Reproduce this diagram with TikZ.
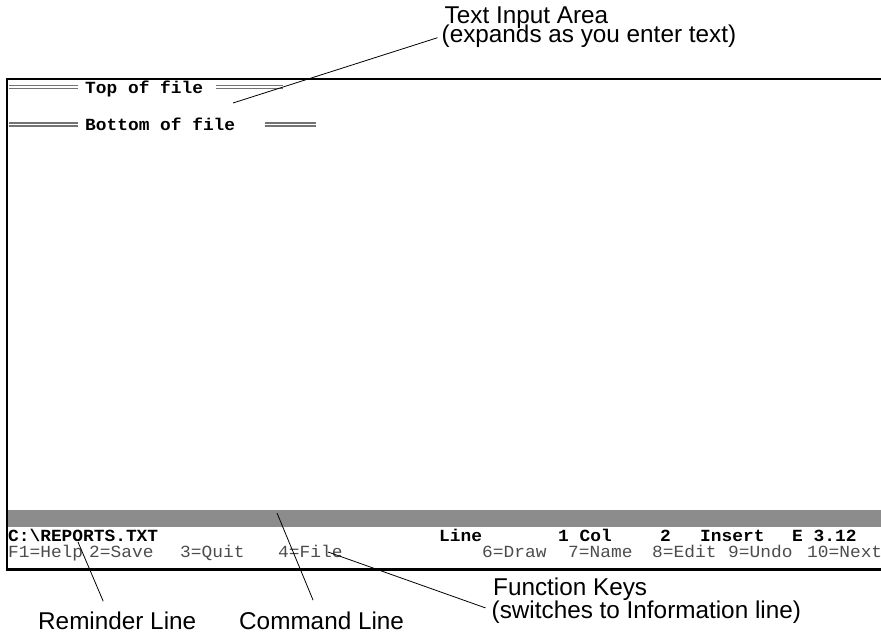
\documentclass[tikz,border=0pt]{standalone}
\usepackage{fontspec}
\newfontfamily\calloutfont{Liberation Sans}
\newfontfamily\screenfont[FakeStretch=1.05]{Liberation Mono}

\begin{document}
\begin{tikzpicture}[x=1bp,y=-1bp,
        callout/.style={font=\calloutfont\fontsize{24.3bp}{26bp}\selectfont, inner sep=0pt, anchor=base west},
        scr/.style={font=\screenfont\bfseries\fontsize{17bp}{18bp}\selectfont, inner sep=0pt, anchor=base west},
        keys/.style={font=\screenfont\fontsize{17bp}{18bp}\selectfont, text=black!70, inner sep=0pt, anchor=base west},
        leader/.style={draw, line width=0.8bp},
        dbl rule/.style={draw=black!55, line width=1.3bp, double=white, double distance=1.5bp}]
        \useasboundingbox (0,0) rectangle (881,633);

        % screen
        \fill[black!45] (8,510) rectangle (881,527);
        \draw[line width=2.5bp] (881,79) -- (7,79) -- (7,569.5) -- (881,569.5);
        \draw[dbl rule] (9,87) -- (78,87);
        \draw[dbl rule] (216,87) -- (283,87);
        \draw[dbl rule] (9,124.5) -- (78,124.5);
        \draw[dbl rule] (265,124.5) -- (316,124.5);

        % screen text
        \node[scr] (top) at (85,93.5) {Top of file};
        \node[scr] (bottom) at (85,131) {Bottom of file};
        \node[scr] (path) at (8,541.7) {C:\textbackslash REPORTS.TXT};
        \node[scr] (line) at (439,541.7) {Line};
        \node[scr] (col) at (558,541.7) {1 Col};
        \node[scr] (colno) at (660,541.7) {2};
        \node[scr] (insert) at (700,541.7) {Insert};
        \node[scr] (version) at (792,541.7) {E 3.12};

        \node[keys] (help) at (8,557) {F1=Help};
        \node[keys] (save) at (89,557) {2=Save};
        \node[keys] (quit) at (180,557) {3=Quit};
        \node[keys] (file) at (278,557) {4=File};
        \node[keys] (drawkey) at (482,557) {6=Draw};
        \node[keys] (name) at (568,557) {7=Name};
        \node[keys] (edit) at (652,557) {8=Edit};
        \node[keys] (undo) at (728,557) {9=Undo};
        \node[keys] (next) at (807,557) {10=Next};

        % callouts
        \node[callout] (input) at (444.5,24) {Text Input Area};
        \node[callout] (inputnote) at (441.5,43) {(expands as you enter text)};
        \node[callout] (fkeys) at (493,595.5) {Function Keys};
        \node[callout] (fkeysnote) at (491.5,618.2) {(switches to Information line)};
        \node[callout] (remind) at (38,629) {Reminder Line};
        \node[callout] (command) at (239,629) {Command Line};

        \coordinate (inputpt) at (233,103);
        \coordinate (remindpt) at (78,542);
        \coordinate (commandpt) at (277,513);
        \coordinate (fkeyspt) at (328,552);

        % leader lines
        \draw[leader] ([xshift=-4bp,yshift=-1bp]inputnote.west) -- (inputpt);
        \draw[leader] ([xshift=-14bp,yshift=10bp]remind.north) -- (remindpt);
        \draw[leader] ([xshift=-8.5bp,yshift=11bp]command.north) -- (commandpt);
        \draw[leader] ([xshift=-6bp,yshift=4bp]fkeysnote.west) -- (fkeyspt);

      \end{tikzpicture}
\end{document}
